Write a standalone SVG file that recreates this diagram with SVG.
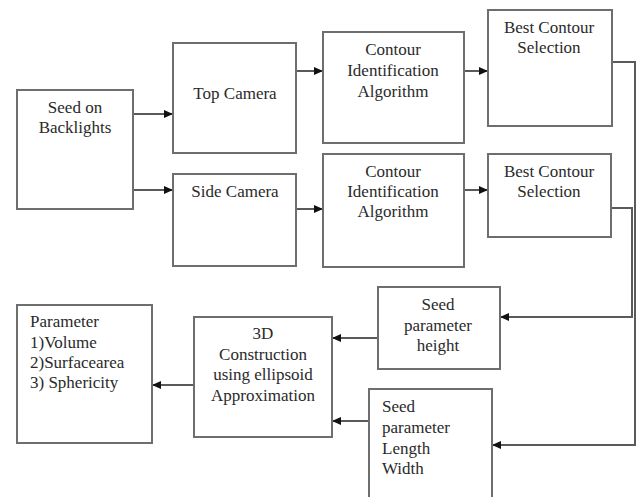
<svg xmlns="http://www.w3.org/2000/svg" width="644" height="497" viewBox="0 0 644 497" font-family="Liberation Serif, DejaVu Serif, serif" font-size="17">
<defs>
<marker id="ah" markerWidth="9" markerHeight="8" refX="9" refY="4" orient="auto" markerUnits="userSpaceOnUse">
<path d="M0,0 L9,4 L0,8 Z" fill="#111"/>
</marker>
<style>
.box{fill:#fff;stroke:#6e6e6e;stroke-width:2}
.t{fill:#2a2a2a}
.c{text-anchor:middle}
.ln{fill:none;stroke:#5a5a5a;stroke-width:2}
</style>
</defs>
<rect width="644" height="497" fill="#fff"/>
<g id="connectors">
<path class="ln" d="M133,114 H173" marker-end="url(#ah)"/>
<path class="ln" d="M133,190 H173" marker-end="url(#ah)"/>
<path class="ln" d="M296,71 H323" marker-end="url(#ah)"/>
<path class="ln" d="M296,209 H323" marker-end="url(#ah)"/>
<path class="ln" d="M464,71 H488" marker-end="url(#ah)"/>
<path class="ln" d="M460,190 H488" marker-end="url(#ah)"/>
<path class="ln" d="M612,62 H635 V445 H492" marker-end="url(#ah)"/>
<path class="ln" d="M611,208 H632 V317 H500" marker-end="url(#ah)"/>
<path class="ln" d="M384,338 H332" marker-end="url(#ah)"/>
<path class="ln" d="M369,421 H332" marker-end="url(#ah)"/>
<path class="ln" d="M194,385 H152" marker-end="url(#ah)"/>
</g>
<g id="seed">
<rect class="box" x="17" y="90" width="116" height="119"/>
<text class="t c" x="75" y="113">Seed on</text>
<text class="t c" x="75" y="133">Backlights</text>
</g>
<g id="topcam">
<rect class="box" x="173" y="43" width="123" height="110"/>
<text class="t c" x="235" y="99">Top Camera</text>
</g>
<g id="sidecam">
<rect class="box" x="173" y="174" width="123" height="92"/>
<text class="t c" x="235" y="197">Side Camera</text>
</g>
<g id="contour1">
<rect class="box" x="323" y="32" width="141" height="111"/>
<text class="t c" x="393" y="55">Contour</text>
<text class="t c" x="393" y="76">Identification</text>
<text class="t c" x="393" y="97">Algorithm</text>
</g>
<g id="contour2">
<rect class="box" x="323" y="154" width="141" height="113"/>
<text class="t c" x="393" y="177">Contour</text>
<text class="t c" x="393" y="197">Identification</text>
<text class="t c" x="393" y="217">Algorithm</text>
</g>
<g id="best1">
<rect class="box" x="488" y="10" width="124" height="116"/>
<text class="t c" x="549" y="33">Best Contour</text>
<text class="t c" x="549" y="53">Selection</text>
</g>
<g id="best2">
<rect class="box" x="488" y="154" width="123" height="83"/>
<text class="t c" x="549" y="177">Best Contour</text>
<text class="t c" x="549" y="197">Selection</text>
</g>
<g id="height">
<rect class="box" x="378" y="287" width="122" height="82"/>
<text class="t c" x="438" y="310">Seed</text>
<text class="t c" x="438" y="331">parameter</text>
<text class="t c" x="438" y="351">height</text>
</g>
<g id="lengthwidth">
<rect class="box" x="369" y="389" width="123" height="112"/>
<text class="t" x="382" y="412">Seed</text>
<text class="t" x="382" y="433">parameter</text>
<text class="t" x="382" y="454">Length</text>
<text class="t" x="382" y="474">Width</text>
</g>
<g id="construction">
<rect class="box" x="194" y="317" width="138" height="120"/>
<text class="t c" x="263" y="339">3D</text>
<text class="t c" x="263" y="360">Construction</text>
<text class="t c" x="263" y="380">using ellipsoid</text>
<text class="t c" x="263" y="401">Approximation</text>
</g>
<g id="parameter">
<rect class="box" x="17" y="305" width="135" height="138"/>
<text class="t" x="30" y="327">Parameter</text>
<text class="t" x="30" y="348">1)Volume</text>
<text class="t" x="30" y="368">2)Surfacearea</text>
<text class="t" x="30" y="388">3) Sphericity</text>
</g>
</svg>
